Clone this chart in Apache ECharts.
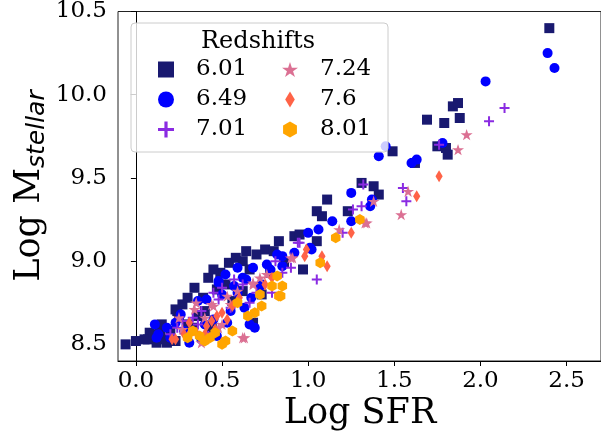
<!DOCTYPE html>
<html>
<head>
<meta charset="utf-8">
<script src="https://cdn.jsdelivr.net/npm/echarts@6/dist/echarts.min.js"></script>
<style>html,body{margin:0;padding:0;background:#fff;}#c{width:601px;height:440px;}</style>
</head>
<body>
<div id="c"></div>
<script>
var names = ['6.01', '6.49', '7.01', '7.24', '7.6', '8.01'];
var xTicks = [0, 0.5, 1.0, 1.5, 2.0, 2.5];
var yTicks = [8.5, 9.0, 9.5, 10.0, 10.5];

var z601 = [[2.40,10.40],[1.69,9.85],[1.79,9.83],[1.84,9.93],[1.87,9.95],[1.88,9.86],[1.75,9.69],[1.80,9.68],[1.81,9.64],[1.62,9.59],[1.49,9.66],[1.31,9.47],[1.38,9.45],[1.41,9.40],[1.23,9.30],[1.11,9.37],[1.05,9.30],[1.08,9.27],[0.83,9.12],[0.92,9.15],[0.95,9.16],[1.05,9.12],[0.97,8.95],[0.64,9.06],[0.70,9.04],[0.75,9.07],[0.54,8.99],[0.49,8.93],[0.62,9.00],[0.47,8.83],[0.39,8.78],[0.34,8.84],[0.27,8.74],[0.23,8.71],[0.24,8.70],[0.15,8.62],[0.08,8.57],[0.00,8.52],[-0.06,8.50],[0.05,8.53],[0.12,8.51],[0.18,8.51],[0.36,8.67],[0.68,8.63],[0.17,8.53],[0.23,8.52],[0.07,8.53],[0.10,8.56],[0.78,8.93],[0.56,8.76],[0.44,8.60],[0.30,8.62],[0.62,8.82],[0.20,8.58],[0.73,8.80],[0.86,8.99],[0.40,8.70],[0.42,8.90],[0.45,8.95],[0.58,9.02],[0.30,8.78],[0.52,8.86],[0.66,8.95],[0.80,9.06],[0.25,8.66],[0.14,8.58],[0.33,8.60]];
var z649 = [[2.39,10.25],[2.43,10.16],[2.03,10.08],[1.78,9.71],[1.60,9.59],[1.63,9.61],[1.41,9.63],[1.45,9.69],[1.25,9.41],[1.37,9.37],[1.36,9.33],[1.25,9.24],[1.14,9.24],[1.06,9.19],[1.00,9.17],[1.01,9.08],[1.02,9.07],[0.82,9.04],[0.85,9.03],[0.92,9.05],[0.85,8.97],[0.76,8.98],[0.68,8.96],[0.59,8.96],[0.73,8.86],[0.67,8.78],[0.62,8.90],[0.48,8.88],[0.64,8.89],[0.72,8.85],[0.11,8.62],[0.13,8.56],[0.23,8.63],[0.36,8.76],[0.41,8.77],[0.48,8.87],[0.59,8.81],[0.66,8.62],[0.31,8.51],[0.53,8.63],[0.12,8.54],[0.69,8.60],[0.45,8.65],[0.28,8.58],[0.38,8.53],[0.55,8.70],[0.18,8.60],[0.26,8.68],[0.50,8.80],[0.57,8.85],[0.63,8.72],[0.40,8.62],[0.52,8.92],[0.78,8.95],[0.20,8.54],[0.47,8.55]];
var z701 = [[2.14,9.92],[2.05,9.84],[1.76,9.70],[1.55,9.44],[1.57,9.36],[1.32,9.46],[1.26,9.31],[1.31,9.33],[1.20,9.17],[1.05,8.89],[0.94,9.11],[0.90,8.96],[0.81,9.00],[0.95,9.11],[0.57,8.89],[0.50,8.84],[0.45,8.81],[0.70,8.81],[0.66,8.75],[0.79,8.81],[0.27,8.64],[0.24,8.60],[0.38,8.70],[0.36,8.62],[0.20,8.56],[0.55,8.72],[0.42,8.55],[0.33,8.66],[0.62,8.86],[0.48,8.77],[0.85,8.93]];
var z724 = [[1.92,9.76],[1.87,9.67],[1.58,9.42],[1.54,9.28],[1.38,9.36],[1.33,9.23],[1.34,9.23],[1.18,9.19],[0.91,9.02],[0.76,8.92],[0.90,9.02],[0.68,8.86],[0.59,8.82],[0.53,8.79],[0.45,8.73],[0.34,8.71],[0.63,8.54],[0.27,8.59],[0.35,8.75],[0.44,8.74],[0.38,8.51],[0.62,8.54],[0.68,8.87],[0.48,8.60],[0.25,8.66],[0.40,8.66],[0.55,8.74],[0.30,8.55],[0.72,8.90],[0.50,8.62]];
var z760 = [[1.76,9.51],[1.63,9.39],[1.25,9.17],[0.99,9.07],[0.98,9.03],[1.08,9.03],[1.11,8.97],[0.79,8.90],[0.56,8.73],[0.47,8.67],[0.46,8.59],[0.41,8.61],[0.31,8.63],[0.23,8.53],[0.50,8.51],[0.50,8.69],[0.21,8.53],[0.40,8.56],[0.60,8.78],[0.75,8.86],[0.35,8.57],[0.44,8.64],[0.28,8.56],[0.53,8.65]];
var z801 = [[1.30,9.25],[1.16,9.14],[1.07,8.99],[0.82,8.91],[0.79,8.85],[0.85,8.85],[0.83,8.79],[0.73,8.73],[0.69,8.69],[0.65,8.67],[0.59,8.75],[0.56,8.58],[0.52,8.52],[0.50,8.50],[0.43,8.54],[0.37,8.55],[0.30,8.54],[0.84,8.79],[0.72,8.80],[0.46,8.57],[0.40,8.52],[0.33,8.58]];

var seriesData = [z601, z649, z701, z724, z760, z801];
var colors = ['#191970', '#0000ff', '#8a2be2', '#db7093', '#ff6347', '#ffa500'];
var PLUS = 'path://M40,0H60V40H100V60H60V100H40V60H0V40H40Z';
var STAR = 'path://M100,0L122.45,69.1L195.1,69.1L136.3,111.8L158.8,180.9L100,138.2L41.2,180.9L63.7,111.8L4.9,69.1L77.55,69.1Z';
var DIAM = 'path://M30,0L60,50L30,100L0,50Z';
var HEX = 'path://M86.6,0L173.2,50L173.2,150L86.6,200L0,150L0,50Z';
var symbols = ['rect', 'circle', PLUS, STAR, DIAM, HEX];
var sizes = [10, 10, 10, 12, 12, 11];

var serif = 'DejaVu Serif';
var chart = echarts.init(document.getElementById('c'), null, {renderer: 'canvas'});
var series = names.map(function (n, i) {
  return {
    name: n, type: 'scatter', data: seriesData[i],
    symbol: symbols[i], symbolSize: sizes[i], symbolKeepAspect: true,
    itemStyle: {color: colors[i], opacity: 1},
    z: 2 + i
  };
});
function legendFor(idx, left) {
  return {
    data: idx.map(function (i) { return {name: names[i], icon: symbols[i]}; }),
    orient: 'vertical', left: left, top: 58, padding: 0,
    itemWidth: 16, itemHeight: 16, itemGap: 7, symbolKeepAspect: true,
    selectedMode: false, z: 20,
    textStyle: {fontFamily: serif, fontSize: 23, lineHeight: 22, color: '#000', padding: [0, 0, 0, 17]}
  };
}
chart.setOption({
  animation: false,
  backgroundColor: '#fff',
  grid: {left: 118, top: 11, width: 484, height: 350, show: true, borderColor: '#222', borderWidth: 1, backgroundColor: 'transparent'},
  xAxis: {
    type: 'value', min: -0.104, max: 2.7,
    axisLine: {show: true, lineStyle: {color: '#000'}},
    axisTick: {show: true, length: 5, inside: false, customValues: xTicks, lineStyle: {color: '#000'}},
    axisLabel: {customValues: xTicks, margin: 9, fontFamily: serif, fontSize: 23, color: '#000', formatter: function (v) { return v.toFixed(1); }},
    splitLine: {show: false}
  },
  yAxis: {
    type: 'value', min: 8.4, max: 10.5,
    axisLine: {show: true, lineStyle: {color: '#000'}},
    axisTick: {show: true, length: 5, inside: false, customValues: yTicks, lineStyle: {color: '#000'}},
    axisLabel: {customValues: yTicks, margin: 11, fontFamily: serif, fontSize: 23, color: '#000', formatter: function (v) { return v.toFixed(1); }},
    splitLine: {show: false}
  },
  legend: [legendFor([0, 1, 2], 158), legendFor([3, 4, 5], 282)],
  graphic: [
    {type: 'rect', z: 15, shape: {x: 131, y: 23, width: 257, height: 129, r: 4},
     style: {fill: 'rgba(255,255,255,0.8)', stroke: '#cccccc', lineWidth: 1}},
    {type: 'text', z: 20, x: 258, y: 42,
     style: {text: 'Redshifts', fontFamily: serif, fontSize: 24, fill: '#000', align: 'center', verticalAlign: 'middle'}},
    {type: 'text', z: 20, x: 360, y: 414,
     style: {text: 'Log SFR', fontFamily: serif, fontSize: 35, fill: '#000', align: 'center', verticalAlign: 'middle'}},
    {type: 'text', z: 20, x: 30, y: 186, rotation: Math.PI / 2,
     style: {text: '{a|Log M}{b|stellar}', align: 'center', verticalAlign: 'middle',
       rich: {a: {fontFamily: serif, fontSize: 35, lineHeight: 40, fill: '#000', verticalAlign: 'middle'},
              b: {fontFamily: 'DejaVu Sans', fontStyle: 'italic', fontSize: 25, lineHeight: 26, fill: '#000', verticalAlign: 'bottom'}}}}
  ],
  series: series
});
</script>
</body>
</html>
